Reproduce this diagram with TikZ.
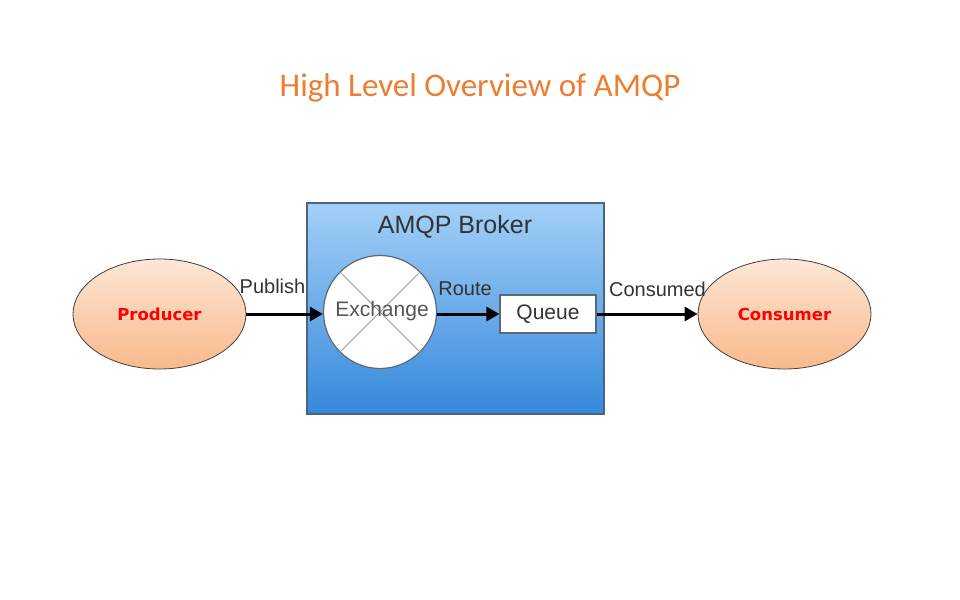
\documentclass[tikz,border=0pt]{standalone}
\usepackage{fontspec}
\newfontfamily\titlefont{Carlito}
\newfontfamily\labfont{Liberation Sans}
\newfontfamily\boldfont{DejaVu Sans}
\usetikzlibrary{arrows.meta,shapes.geometric}
\definecolor{titleor}{HTML}{ED7D31}
\definecolor{peachtop}{HTML}{FDE6D6}
\definecolor{peachbot}{HTML}{F9B98A}
\definecolor{bluetop}{HTML}{A4D0F7}
\definecolor{bluebot}{HTML}{3588DC}
\definecolor{bluebord}{HTML}{4A6580}
\definecolor{labgray}{HTML}{333333}
\definecolor{exgray}{HTML}{555555}
\definecolor{xline}{HTML}{9A9A9A}
\definecolor{circbord}{HTML}{5A6878}
\begin{document}
\begin{tikzpicture}[x=1pt,y=-1pt,
  ell/.style={ellipse, draw=black!75, line width=0.8pt, top color=peachtop, bottom color=peachbot,
    minimum width=173pt, minimum height=110pt, inner sep=0pt,
    font=\boldfont\bfseries\fontsize{16.5}{18}\selectfont, text=red},
  flow/.style={-{Triangle[length=13pt,width=14pt]}, line width=3pt, black},
  lab/.style={font=\labfont\fontsize{20}{22}\selectfont, text=labgray, anchor=base, inner sep=0pt}]
\useasboundingbox (0,0) rectangle (960,599);
\fill[white] (0,0) rectangle (960,599);
% title
\node[font=\titlefont\fontsize{33}{36}\selectfont, text=titleor, anchor=base, inner sep=0pt] (title) at (480,97) {High Level Overview of AMQP};
% broker
\node[draw=bluebord, line width=1.6pt, top color=bluetop, bottom color=bluebot,
  minimum width=297pt, minimum height=211pt, inner sep=0pt] (broker) at (455.5,308.5) {};
\node[font=\labfont\fontsize{25}{27}\selectfont, text=labgray, anchor=base, inner sep=0pt] (brokerlab) at (455,233) {AMQP Broker};
% exchange
\node[circle, draw=circbord, line width=1.2pt, fill=white, minimum size=113pt, inner sep=0pt] (ex) at (380,312) {};
\draw[xline, line width=1pt] (ex.45) -- (ex.225);
\draw[xline, line width=1pt] (ex.135) -- (ex.315);
\node[font=\labfont\fontsize{21}{23}\selectfont, text=exgray, anchor=base, inner sep=0pt] (exlab) at (382,316) {Exchange};
% queue
\node[draw=circbord, line width=1.2pt, fill=white, minimum width=96pt, minimum height=38pt, inner sep=0pt,
  font=\labfont\fontsize{21}{23}\selectfont, text=labgray] (queue) at (548,314) {Queue};
% producer / consumer
\node[ell] (prod) at (159.5,314) {Producer};
\node[ell] (cons) at (784.5,314) {Consumer};
% arrows
\draw[flow] (prod.east) -- (prod.east -| ex.west);
\draw[flow] (ex.east |- queue.west) -- (queue.west);
\draw[flow] (queue.east) -- (cons.west);
% labels
\node[lab] (publish) at (272.5,293) {Publish};
\node[lab] (route) at (465,295) {Route};
\node[lab] (consumed) at (657.5,296) {Consumed};
\end{tikzpicture}
\end{document}
